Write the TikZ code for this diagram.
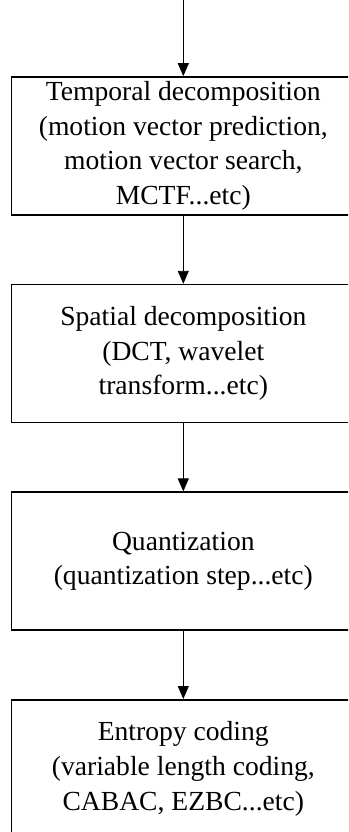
\documentclass[tikz,border=0pt]{standalone}
\usepackage{fontspec}
\setmainfont{Liberation Serif}
\usepackage{tikz}
\usetikzlibrary{arrows.meta,positioning}

\begin{document}
\begin{tikzpicture}[x=1pt,y=1pt,
	font=\fontsize{27.6}{34.6}\selectfont,
	stagebox/.style={draw,line width=1.6pt,align=center,
		minimum width=343.6pt,minimum height=138pt,inner sep=0pt},
	flow/.style={line width=0.9pt,-{Triangle[length=13pt,width=11pt]}},
	node distance=68pt]
	\useasboundingbox (0,0) rectangle (348,-832);
	\clip (0,0) rectangle (348,-832);
	%stages of the coder, top to bottom
	\coordinate (in) at (183.3,0);
	\node[stagebox] (temporal) at (183.3,-146) {Temporal decomposition\\(motion vector prediction,\\motion vector search,\\MCTF...etc)};
	\node[stagebox,below=of temporal] (spatial) {Spatial decomposition\\(DCT, wavelet\\transform...etc)};
	\node[stagebox,below=of spatial] (quant) {Quantization\\(quantization step...etc)};
	\node[stagebox,below=of quant] (entropy) {Entropy coding\\(variable length coding,\\CABAC, EZBC...etc)};
	%connectors
	\draw[flow] (in) -- (temporal);
	\draw[flow] (temporal) -- (spatial);
	\draw[flow] (spatial) -- (quant);
	\draw[flow] (quant) -- (entropy);
\end{tikzpicture}
\end{document}
